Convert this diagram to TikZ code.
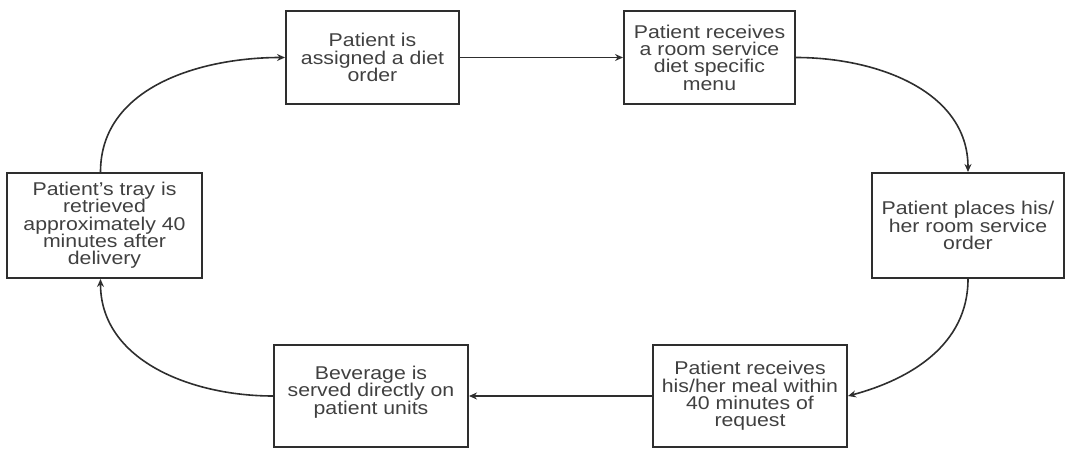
\documentclass[tikz,border=0pt]{standalone}
\usepackage{fontspec}
\setmainfont[FakeStretch=1.15]{Liberation Sans}
\usetikzlibrary{arrows.meta}
\begin{document}
\begin{tikzpicture}[x=1pt,y=1pt,
  box/.style={draw=black!82, line width=2pt, align=center, inner sep=0pt,
    text=black!75, font=\fontsize{18.5}{17.3}\selectfont},
  flow/.style={draw=black!82, line width=1.6pt, -{Stealth[length=8pt,width=7pt]}}]
\useasboundingbox (0,0) rectangle (1072,448);
\node[box, minimum width=173pt, minimum height=93pt] (b1) at (372.5,390.5) {Patient is\\assigned a diet\\order};
\node[box, minimum width=171pt, minimum height=93pt] (b2) at (709.5,390.5) {Patient receives\\a room service\\diet specific\\menu};
\node[box, minimum width=192pt, minimum height=105pt] (b3) at (968,222.5) {Patient places his/\\her room service\\order};
\node[box, minimum width=194pt, minimum height=102pt] (b4) at (750,52) {Patient receives\\his/her meal within\\40 minutes of\\request};
\node[box, minimum width=194pt, minimum height=102pt, text depth=12pt] (b5) at (371,52) {Beverage is\\served directly on\\patient units};
\node[box, minimum width=195pt, minimum height=105pt] (b6) at (104.5,222.5) {Patient's tray is\\retrieved\\approximately 40\\minutes after\\delivery};
\draw[flow] (b1) -- (b2);
\draw[flow] (b2.east) to[out=0, in=90] (b3.north);
\draw[flow] (b3.south) to[out=-90, in=15] (b4.east);
\draw[flow] (b4) -- (b5);
\draw[flow] (b5.west) to[out=180, in=-90] ([xshift=-4pt]b6.south);
\draw[flow] ([xshift=-4pt]b6.north) to[out=90, in=180] (b1.west);
\end{tikzpicture}
\end{document}
